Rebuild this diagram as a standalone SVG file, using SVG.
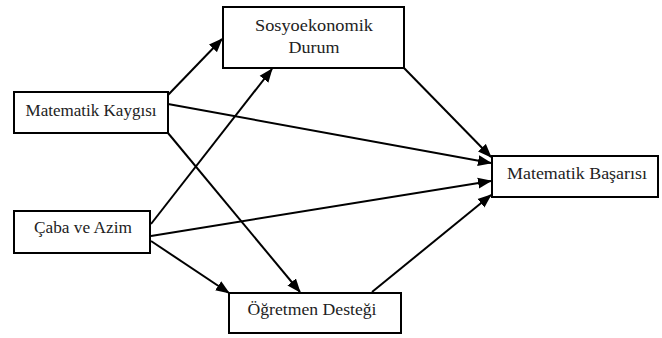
<svg xmlns="http://www.w3.org/2000/svg" width="662" height="338" viewBox="0 0 662 338">
<style>
.box{fill:#fff;stroke:#000;stroke-width:2}
.lbl{font-family:"Liberation Serif","Times New Roman",serif;font-size:17px;fill:#222;text-anchor:middle}
.edge{stroke:#000;stroke-width:2;fill:none;marker-end:url(#ah)}
</style>
<defs>
<marker id="ah" markerUnits="userSpaceOnUse" markerWidth="14" markerHeight="12" refX="13" refY="5.5" orient="auto" viewBox="0 0 14 11">
<path d="M0,0 L14,5.5 L0,11 z" fill="#000"/>
</marker>
</defs>
<rect width="662" height="338" fill="#fff"/>
<g id="connectors">
<line class="edge" x1="168" y1="95" x2="222" y2="39"/>
<line class="edge" x1="151" y1="224" x2="272" y2="69"/>
<line class="edge" x1="168" y1="104" x2="491" y2="163"/>
<line class="edge" x1="168" y1="133" x2="300" y2="292"/>
<line class="edge" x1="151" y1="236" x2="491" y2="181"/>
<line class="edge" x1="151" y1="241" x2="229" y2="293"/>
<line class="edge" x1="372" y1="292" x2="491" y2="195"/>
<line class="edge" x1="404" y1="68" x2="491" y2="157"/>
</g>
<g id="sosyo">
<rect class="box" x="223" y="7" width="181" height="61"/>
<text class="lbl" x="314" y="31" textLength="118" lengthAdjust="spacingAndGlyphs">Sosyoekonomik</text>
<text class="lbl" x="314" y="53" textLength="51" lengthAdjust="spacingAndGlyphs">Durum</text>
</g>
<g id="kaygi">
<rect class="box" x="14" y="92" width="154" height="41"/>
<text class="lbl" x="91" y="116" textLength="131" lengthAdjust="spacingAndGlyphs">Matematik Kaygısı</text>
</g>
<g id="basari">
<rect class="box" x="492" y="156" width="166" height="41"/>
<text class="lbl" x="577" y="179" textLength="140" lengthAdjust="spacingAndGlyphs">Matematik Başarısı</text>
</g>
<g id="caba">
<rect class="box" x="14" y="211" width="136" height="42"/>
<text class="lbl" x="83" y="233" textLength="98" lengthAdjust="spacingAndGlyphs">Çaba ve Azim</text>
</g>
<g id="ogretmen">
<rect class="box" x="229" y="293" width="172" height="40"/>
<text class="lbl" x="312" y="315" textLength="129" lengthAdjust="spacingAndGlyphs">Öğretmen Desteği</text>
</g>
</svg>
